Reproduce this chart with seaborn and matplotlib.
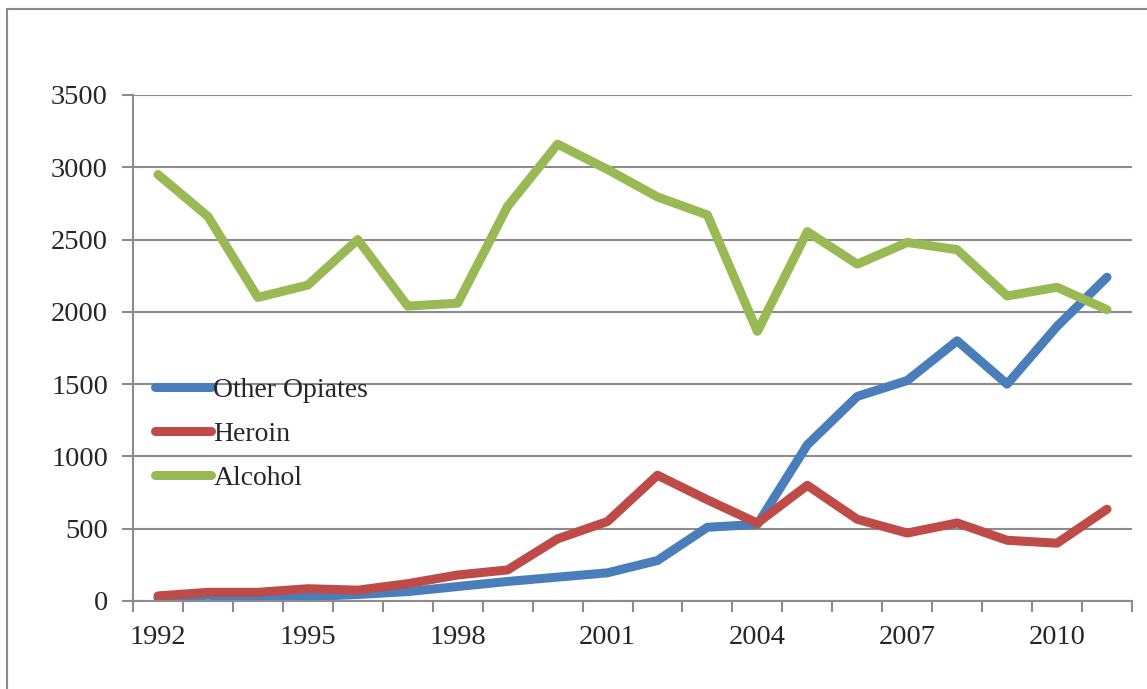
import pandas as pd
import matplotlib.pyplot as plt
import matplotlib.patches as mpatches
import seaborn as sns

# Data
years = list(range(1992, 2012))
other_opiates = [20, 40, 20, 30, 45, 65, 100, 135, 165, 195, 280, 510, 530, 1080,
                 1415, 1525, 1800, 1500, 1900, 2240]
heroin = [35, 60, 60, 85, 75, 120, 180, 215, 430, 550, 870, 700, 539, 800,
          565, 470, 540, 420, 400, 635]
alcohol = [2950, 2660, 2100, 2185, 2500, 2040, 2060, 2730, 3160, 2985, 2795, 2670,
           1865, 2555, 2330, 2480, 2430, 2110, 2170, 2015]
series_names = ['Other Opiates', 'Heroin', 'Alcohol']
colors = ['#4a7ebb', '#be4b48', '#98b954']
year_labels = [1992, 1995, 1998, 2001, 2004, 2007, 2010]

data = pd.DataFrame({
    'Year': years * 3,
    'Value': other_opiates + heroin + alcohol,
    'Series': [s for s in series_names for _ in years],
})

sns.set_style('white')
plt.rcParams['font.family'] = ['Liberation Serif', 'DejaVu Serif']

fig = plt.figure(figsize=(11.47, 6.89), dpi=100)
ax = fig.add_axes([133 / 1147, 1 - 601 / 689, 999 / 1147, 506 / 689])

# outer chart border
fig.patches.append(mpatches.Rectangle((7 / 1147, -0.1), 1.2, 1 - 9 / 689 + 0.1,
                                      transform=fig.transFigure, fill=False,
                                      edgecolor='#8a8a8a', linewidth=1.5))

sns.lineplot(data=data, x='Year', y='Value', hue='Series', hue_order=series_names,
             palette=colors, linewidth=6.5, ax=ax, solid_capstyle='round',
             solid_joinstyle='round')

ax.set_xlim(1991.5, 2011.5)
ax.set_ylim(0, 3500)
ax.set_yticks(range(0, 3501, 500))
ax.yaxis.grid(True, color='#8c8c8c', linewidth=1.5)
ax.set_axisbelow(True)

# category-style axis: tick marks between years, labels every third year
ax.set_xticks(year_labels)
ax.set_xticklabels([str(y) for y in year_labels])
ax.set_xticks([y - 0.5 for y in years] + [2011.5], minor=True)
ax.tick_params(axis='x', which='major', bottom=True, length=0, pad=17, labelsize=20.5)
ax.tick_params(axis='x', which='minor', bottom=True, length=8, width=1.5,
               color='#8c8c8c', direction='out')
ax.tick_params(axis='y', left=True, length=8, width=1.5, color='#8c8c8c',
               direction='out', labelsize=20.5, pad=10)
for side in ['top', 'right']:
    ax.spines[side].set_visible(False)
for side in ['left', 'bottom']:
    ax.spines[side].set_color('#8c8c8c')
    ax.spines[side].set_linewidth(1.5)

ax.set_xlabel('')
ax.set_ylabel('')

ax.legend(loc='upper left', bbox_to_anchor=(0.022, 0.442), frameon=False,
          fontsize=20, handlelength=2.0, handletextpad=0.1, labelspacing=0.67,
          borderaxespad=0, borderpad=0)

plt.savefig('out.png', dpi=100)
plt.close()
